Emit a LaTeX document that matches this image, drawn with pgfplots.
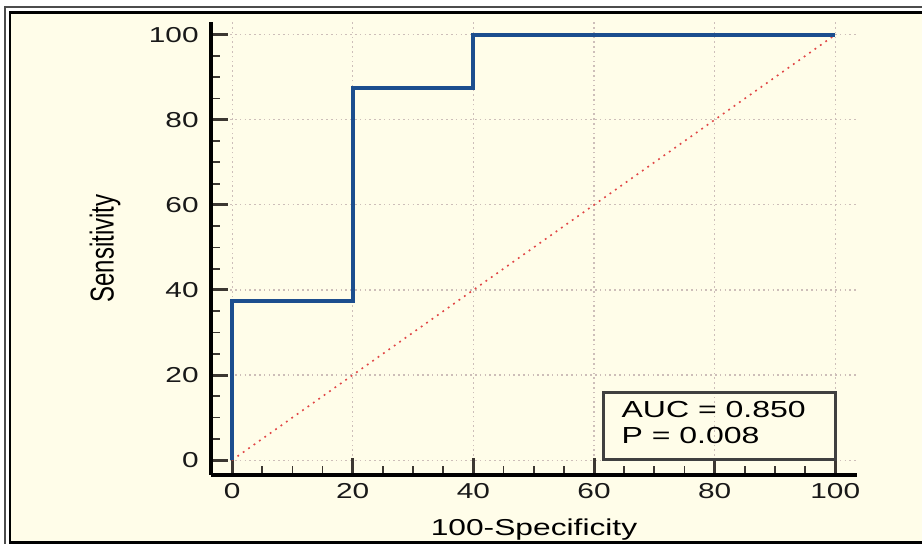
\documentclass[border=0pt]{standalone}
\usepackage{fontspec}
\setmainfont{Liberation Sans}[FakeStretch=1.38]
\newfontfamily\plainfont{Liberation Sans}
\usepackage{graphicx}
\usepackage{pgfplots}
\pgfplotsset{compat=1.18}
\definecolor{cream}{RGB}{255,253,233}
\definecolor{rocblue}{RGB}{28,78,142}
\definecolor{diagred}{RGB}{225,70,70}
\definecolor{gridc}{RGB}{205,190,185}
\definecolor{tickc}{RGB}{60,55,50}
\begin{document}
\begin{tikzpicture}
% page is 922x544 px at 0.5pt per px
\useasboundingbox (0,0) rectangle (461pt,272pt);
\fill[white] (0,0) rectangle (461pt,272pt);
\fill[cream] (5pt,0.75pt) rectangle (461pt,265.75pt);
\draw[line width=1pt, black!70] (2.25pt,-1pt) -- (2.25pt,268.25pt) -- (462pt,268.25pt);
\draw[line width=1.2pt, black] (462pt,0.75pt) -- (5pt,0.75pt) -- (5pt,265.75pt) -- (462pt,265.75pt);

\begin{axis}[
  at={(105.5pt,34.5pt)}, anchor=south west,
  scale only axis,
  width=323pt, height=226.5pt,
  xmin=-3.5, xmax=103.6,
  ymin=-3.5, ymax=103,
  axis lines=left,
  axis line style={-, line width=2pt, black},
  xtick={0,20,40,60,80,100},
  ytick={0,20,40,60,80,100},
  minor x tick num=3,
  minor y tick num=3,
  tick align=inside,
  major tick length=8.5pt,
  minor tick length=4.5pt,
  major tick style={line width=1.5pt, tickc},
  minor tick style={line width=0.9pt, tickc},
  grid=major,
  major grid style={gridc, line width=0.6pt, dash pattern=on 0.8pt off 1.6pt},
  /pgf/number format/assume math mode=true,
  tick label style={font=\fontsize{10.8}{12}\selectfont, text=black!90},
  xticklabel style={anchor=base, yshift=-12pt},
  yticklabel style={anchor=east, inner sep=0pt, xshift=-6pt},
  xlabel={100-Specificity},
  xlabel style={at={(axis description cs:0.5,-0.1325)}, anchor=base,
    font=\fontsize{11.5}{13}\selectfont},
  ylabel={\scalebox{1}[1.38]{\plainfont Sensitivity}},
  ylabel style={at={(axis description cs:-0.164,0.5)}, anchor=center,
    font=\fontsize{12}{14}\selectfont},
  clip=false,
]
\addplot[diagred, line width=0.8pt, dash pattern=on 0.9pt off 2.4pt] coordinates {
  (0,0) (100,100)};
\addplot[rocblue, line width=2pt, line join=miter] coordinates {
  (0,0) (0,37.5) (20,37.5) (20,87.5) (40,87.5) (40,100) (100,100)};
\draw[line width=1.5pt, black!75] (axis cs:61.5,0.2) rectangle (axis cs:100,15.8);
\node[anchor=base west, inner sep=0pt, font=\fontsize{11.6}{13}\selectfont]
  at (axis cs:64.5,10.1) {AUC = 0.850};
\node[anchor=base west, inner sep=0pt, font=\fontsize{11.6}{13}\selectfont]
  at (axis cs:64.5,3.8) {P = 0.008};
\end{axis}
\end{tikzpicture}
\end{document}
